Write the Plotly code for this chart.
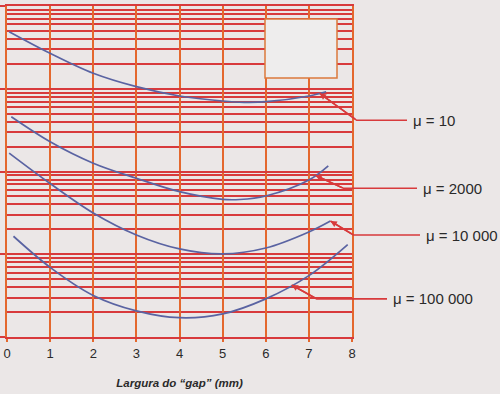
import numpy as np
import plotly.graph_objects as go

# ---- data (x = gap width in mm, y = relative value, log scale) ----
gap_mu10 = [0.05, 1, 2, 3, 4, 5, 5.5, 6, 7, 7.4]
val_mu10 = [4890, 2680, 1538, 1059, 817, 711, 686, 697, 817, 921]

gap_mu2000 = [0.1, 1, 2, 3, 4, 5, 5.4, 6, 7, 7.45]
val_mu2000 = [459, 229, 126, 82.8, 57.0, 46.1, 45.9, 50.6, 78.9, 117]

gap_mu10000 = [0.05, 1, 2, 3, 4, 5, 6, 7, 7.5]
val_mu10000 = [167, 71.6, 31.5, 17.1, 11.6, 10.1, 11.9, 18.6, 25.2]

gap_mu100000 = [0.15, 1, 2, 3, 4, 5, 6, 7, 7.9]
val_mu100000 = [16.5, 6.95, 3.18, 2.07, 1.71, 1.90, 2.89, 5.52, 13.1]

series_labels = ["\u03bc = 10", "\u03bc = 2000", "\u03bc = 10 000", "\u03bc = 100 000"]
arrow_gap = [7.25, 7.15, 7.5, 6.6]          # where each leader touches its curve
x_ticks = [0, 1, 2, 3, 4, 5, 6, 7, 8]
x_title = "Largura do \u201cgap\u201d (mm)"

# ---- styling / layout ----
W, H = 500, 394
ML, MR, MT, MB = 7, 148, 6, 57
PW, PH = W - ML - MR, H - MT - MB
XR = [0, 8]
YR = [0, 4]  # log10 range

ORANGE = "#e4682e"
RED = "#d83a3c"
BLUE = "#5a63a2"
BG = "#ebe7e7"
TXT = "#2a2a2a"

# leader geometry (pixel offsets from the tip to the elbow, and end of horizontal)
lead_dx = [37, 28, 23, 25]
lead_dy = [27, 13, 14, 14]
lead_end = [407, 417, 420, 387]  # px, absolute

def to_px(x, v):
    px = ML + (x - XR[0]) / (XR[1] - XR[0]) * PW
    py = MT + PH - (np.log10(v) - YR[0]) / (YR[1] - YR[0]) * PH
    return px, py

def px_to_paper(px, py):
    return (px - ML) / PW, (MT + PH - py) / PH

fig = go.Figure()
gaps = [gap_mu10, gap_mu2000, gap_mu10000, gap_mu100000]
vals = [val_mu10, val_mu2000, val_mu10000, val_mu100000]
for g, v, name in zip(gaps, vals, series_labels):
    fig.add_trace(go.Scatter(x=g, y=v, mode="lines", name=name,
                             line=dict(color=BLUE, width=1.7, shape="spline", smoothing=1.0),
                             showlegend=False, hoverinfo="skip"))

shapes = []
annotations = []
for g, v, name, ax_, dx, dy, xe in zip(gaps, vals, series_labels, arrow_gap, lead_dx, lead_dy, lead_end):
    tip_v = 10 ** np.interp(ax_, g, np.log10(v))
    tx, ty = to_px(ax_, tip_v)
    ex, ey = tx + dx, ty + dy
    p0 = px_to_paper(tx, ty)
    p1 = px_to_paper(ex, ey)
    p2 = px_to_paper(xe, ey)
    shapes.append(dict(type="path", xref="paper", yref="paper",
                       path=f"M {p0[0]} {p0[1]} L {p1[0]} {p1[1]} L {p2[0]} {p2[1]}",
                       line=dict(color=RED, width=1.6), layer="above"))
    annotations.append(dict(x=ax_, y=np.log10(tip_v), xref="x", yref="y",
                            ax=dx, ay=dy, text="", showarrow=True,
                            arrowhead=2, arrowsize=0.8, arrowwidth=1.6, arrowcolor=RED,
                            standoff=0, startstandoff=0))
    annotations.append(dict(x=p2[0] + 4 / PW, y=p2[1], xref="paper", yref="paper",
                            text=name, showarrow=False, xanchor="left", yanchor="middle",
                            font=dict(family="Liberation Sans, Arial", size=15, color=TXT)))

# empty legend-like box in the upper right of the grid
bx0, by0 = px_to_paper(265, 78)
bx1, by1 = px_to_paper(337, 19)
shapes.append(dict(type="rect", xref="paper", yref="paper", x0=bx0, y0=by0, x1=bx1, y1=by1,
                   fillcolor="#eeeded", line=dict(color="#dc7a3c", width=1.5), layer="above"))

fig.update_layout(
    width=W, height=H,
    margin=dict(l=ML, r=MR, t=MT, b=MB, autoexpand=False),
    paper_bgcolor=BG, plot_bgcolor=BG,
    shapes=shapes, annotations=annotations,
    xaxis=dict(range=XR, tickvals=x_ticks, ticktext=[str(t) for t in x_ticks],
               showgrid=True, gridcolor=ORANGE, gridwidth=2, zeroline=False,
               showline=True, linecolor=RED, linewidth=2, mirror=True,
               ticks="outside", ticklen=3, tickcolor=ORANGE, tickwidth=2,
               tickfont=dict(family="Liberation Sans, Arial", size=13, color=TXT),
               title=dict(text=x_title, standoff=19,
                          font=dict(family="Liberation Sans, Arial", size=11.5, color=TXT,
                                    weight="bold", style="italic"))),
    yaxis=dict(type="log", range=YR, dtick=1, showticklabels=False,
               showgrid=True, gridcolor=RED, gridwidth=2, zeroline=False,
               minor=dict(dtick="D1", showgrid=True, gridcolor=RED, gridwidth=1.6,
                          ticks=""),
               showline=True, linecolor=ORANGE, linewidth=2, mirror=True,
               ticks="outside", ticklen=5, tickcolor=RED, tickwidth=1.5),
)

fig.write_html("out.html")
